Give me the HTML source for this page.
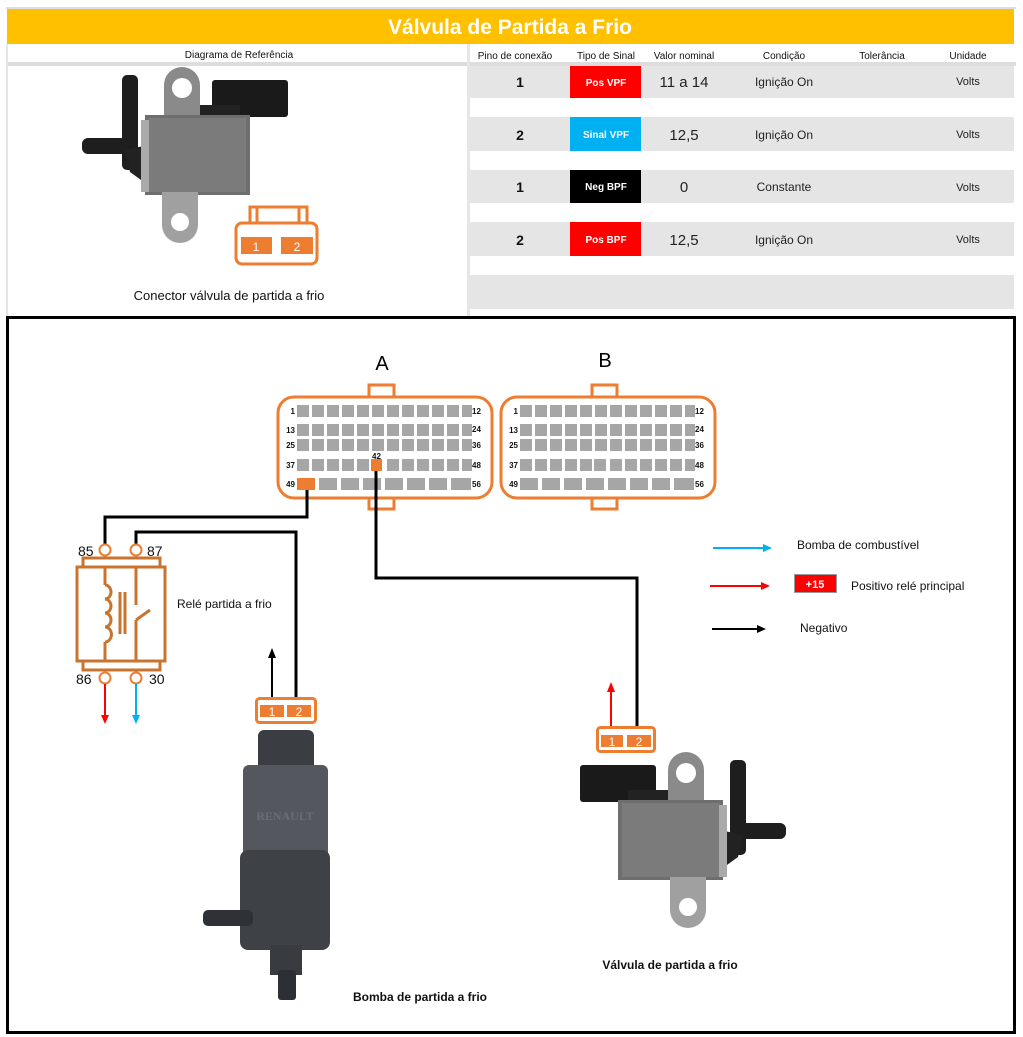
<!DOCTYPE html>
<html><head><meta charset="utf-8">
<style>
body{margin:0;background:#fff;width:1023px;height:1037px;overflow:hidden;font-family:"Liberation Sans",sans-serif;}
svg{position:absolute;left:0;top:0}
</style></head><body>
<svg width="1023" height="1037" viewBox="0 0 1023 1037" xmlns="http://www.w3.org/2000/svg" font-family="Liberation Sans, sans-serif">
<defs>
<g id="valve">
  <rect x="82" y="138" width="45" height="16" rx="6" fill="#1e1e1e"/>
  <rect x="122" y="75" width="16" height="95" rx="5" fill="#1e1e1e"/>
  <polygon points="125,150 148,145 148,185 130,172" fill="#222"/>
  <path d="M164,118 L164,85 A18,18 0 0 1 200,85 L200,118 Z" fill="#8a8a8a"/>
  <circle cx="182" cy="88" r="10" fill="#fff"/>
  <rect x="212" y="80" width="76" height="37" rx="3" fill="#1a1a1a"/>
  <rect x="200" y="105" width="40" height="15" fill="#222"/>
  <rect x="145" y="115" width="105" height="80" fill="#6e6e6e"/>
  <rect x="148" y="118" width="98" height="74" fill="#7b7b7b"/>
  <rect x="141" y="120" width="8" height="72" fill="#aaa"/>
  <path d="M162,192 L162,225 A18,18 0 0 0 198,225 L198,192 Z" fill="#a0a0a0"/>
  <circle cx="180" cy="222" r="9" fill="#fff"/>
</g>
</defs>
<!-- header -->
<rect x="6" y="7" width="1010" height="2" fill="#ddd"/>
<rect x="7" y="9" width="1007" height="35" fill="#ffc000"/>
<text x="510" y="34" text-anchor="middle" fill="#fff" font-size="21" font-weight="bold">Válvula de Partida a Frio</text>
<g font-size="10" fill="#111" text-anchor="middle">
<text x="239" y="58">Diagrama de Referência</text>
<text x="515" y="59">Pino de conexão</text>
<text x="606" y="59">Tipo de Sinal</text>
<text x="684" y="59">Valor nominal</text>
<text x="784" y="59">Condição</text>
<text x="882" y="59">Tolerância</text>
<text x="968" y="59">Unidade</text>
</g>
<rect x="6" y="62" width="1010" height="4" fill="#ddd"/>
<rect x="467" y="44" width="3" height="272" fill="#e6e6e6"/>
<rect x="6" y="44" width="2" height="272" fill="#e6e6e6"/>
<rect x="470" y="66" width="544" height="32" fill="#e5e5e5"/>
<rect x="470" y="117" width="544" height="34" fill="#e5e5e5"/>
<rect x="470" y="170" width="544" height="33" fill="#e5e5e5"/>
<rect x="470" y="222" width="544" height="34" fill="#e5e5e5"/>
<rect x="470" y="275" width="544" height="34" fill="#e5e5e5"/>
<rect x="570" y="66" width="71" height="32" fill="#ff0000"/>
<rect x="570" y="117" width="71" height="34" fill="#00b0f0"/>
<rect x="570" y="170" width="71" height="33" fill="#000"/>
<rect x="570" y="222" width="71" height="34" fill="#ff0000"/>
<g text-anchor="middle">
<g font-size="14" font-weight="bold" fill="#111"><text x="520" y="87">1</text><text x="520" y="140">2</text><text x="520" y="192">1</text><text x="520" y="245">2</text></g>
<g font-size="10" font-weight="bold" fill="#fff"><text x="606" y="86">Pos VPF</text><text x="606" y="138">Sinal VPF</text><text x="606" y="190">Neg BPF</text><text x="606" y="243">Pos BPF</text></g>
<g font-size="15" fill="#222"><text x="684" y="87">11 a 14</text><text x="684" y="140">12,5</text><text x="684" y="192">0</text><text x="684" y="245">12,5</text></g>
<g font-size="12" fill="#222"><text x="784" y="86">Ignição On</text><text x="784" y="139">Ignição On</text><text x="784" y="191">Constante</text><text x="784" y="244">Ignição On</text></g>
<g font-size="11" fill="#222"><text x="968" y="85">Volts</text><text x="968" y="138">Volts</text><text x="968" y="191">Volts</text><text x="968" y="243">Volts</text></g>
</g>
<use href="#valve"/>
<!-- top connector icon -->
<g fill="none" stroke="#ed7d31" stroke-width="3">
<rect x="236" y="223" width="81" height="41" rx="6"/>
<path d="M250,222 V207 H307 V222 M257,207 V222 M299,207 V222"/>
</g>
<rect x="241" y="237" width="31" height="17" fill="#ed7d31"/>
<rect x="281" y="237" width="32" height="17" fill="#ed7d31"/>
<text x="256" y="251" fill="#fff" font-size="12" text-anchor="middle">1</text>
<text x="297" y="251" fill="#fff" font-size="12" text-anchor="middle">2</text>
<text x="229" y="300" font-size="13" text-anchor="middle" fill="#111">Conector válvula de partida a frio</text>
<!-- main frame -->
<rect x="7.5" y="317.5" width="1007" height="715" fill="none" stroke="#000" stroke-width="3"/>
<!-- ECU connectors -->
<text x="382" y="370" font-size="20" text-anchor="middle">A</text>
<text x="605" y="367" font-size="20" text-anchor="middle">B</text>
<g fill="#fff" stroke="#ed7d31" stroke-width="3">
<rect x="369" y="385" width="25" height="14"/><rect x="369" y="495" width="25" height="14"/>
<rect x="592" y="385" width="25" height="14"/><rect x="592" y="495" width="25" height="14"/>
<rect x="278" y="397" width="214" height="101" rx="16"/>
<rect x="501" y="397" width="214" height="101" rx="16"/>
</g>
<g id="pinsA" fill="#a6a6a6">
<rect x="297" y="405" width="12" height="12"/><rect x="312" y="405" width="12" height="12"/><rect x="327" y="405" width="12" height="12"/><rect x="342" y="405" width="12" height="12"/><rect x="357" y="405" width="12" height="12"/><rect x="372" y="405" width="12" height="12"/><rect x="387" y="405" width="12" height="12"/><rect x="402" y="405" width="12" height="12"/><rect x="417" y="405" width="12" height="12"/><rect x="432" y="405" width="12" height="12"/><rect x="447" y="405" width="12" height="12"/><rect x="462" y="405" width="10" height="12"/>
<rect x="297" y="424" width="12" height="12"/><rect x="312" y="424" width="12" height="12"/><rect x="327" y="424" width="12" height="12"/><rect x="342" y="424" width="12" height="12"/><rect x="357" y="424" width="12" height="12"/><rect x="372" y="424" width="12" height="12"/><rect x="387" y="424" width="12" height="12"/><rect x="402" y="424" width="12" height="12"/><rect x="417" y="424" width="12" height="12"/><rect x="432" y="424" width="12" height="12"/><rect x="447" y="424" width="12" height="12"/><rect x="462" y="424" width="10" height="12"/>
<rect x="297" y="439" width="12" height="12"/><rect x="312" y="439" width="12" height="12"/><rect x="327" y="439" width="12" height="12"/><rect x="342" y="439" width="12" height="12"/><rect x="357" y="439" width="12" height="12"/><rect x="372" y="439" width="12" height="12"/><rect x="387" y="439" width="12" height="12"/><rect x="402" y="439" width="12" height="12"/><rect x="417" y="439" width="12" height="12"/><rect x="432" y="439" width="12" height="12"/><rect x="447" y="439" width="12" height="12"/><rect x="462" y="439" width="10" height="12"/>
<rect x="297" y="459" width="12" height="12"/><rect x="312" y="459" width="12" height="12"/><rect x="327" y="459" width="12" height="12"/><rect x="342" y="459" width="12" height="12"/><rect x="357" y="459" width="12" height="12"/><rect x="387" y="459" width="12" height="12"/><rect x="402" y="459" width="12" height="12"/><rect x="417" y="459" width="12" height="12"/><rect x="432" y="459" width="12" height="12"/><rect x="447" y="459" width="12" height="12"/><rect x="462" y="459" width="10" height="12"/>
<rect x="319" y="478" width="18" height="12"/><rect x="341" y="478" width="18" height="12"/><rect x="363" y="478" width="18" height="12"/><rect x="385" y="478" width="18" height="12"/><rect x="407" y="478" width="18" height="12"/><rect x="429" y="478" width="18" height="12"/><rect x="451" y="478" width="20" height="12"/>
</g>
<rect x="371" y="459" width="11" height="12" fill="#ed7d31"/>
<rect x="297" y="478" width="18" height="12" fill="#ed7d31"/>
<use href="#pinsA" transform="translate(223,0)"/>
<rect x="594" y="459" width="12" height="12" fill="#a6a6a6"/>
<rect x="520" y="478" width="18" height="12" fill="#a6a6a6"/>
<g font-size="8" font-weight="bold" fill="#111">
<g text-anchor="end"><text x="295" y="414">1</text><text x="295" y="433">13</text><text x="295" y="448">25</text><text x="295" y="468">37</text><text x="295" y="487">49</text>
<text x="518" y="414">1</text><text x="518" y="433">13</text><text x="518" y="448">25</text><text x="518" y="468">37</text><text x="518" y="487">49</text></g>
<text x="472" y="414">12</text><text x="472" y="432">24</text><text x="472" y="448">36</text><text x="472" y="468">48</text><text x="472" y="487">56</text>
<text x="695" y="414">12</text><text x="695" y="432">24</text><text x="695" y="448">36</text><text x="695" y="468">48</text><text x="695" y="487">56</text>
<text x="372" y="459">42</text>
</g>
<!-- wires -->
<g fill="none" stroke="#000" stroke-width="3">
<path d="M307,490 V517 H105 V545"/>
<path d="M136,545 V532 H296 V698"/>
<path d="M376,471 V578 H637 V728"/>
</g>
<!-- relay -->
<g fill="none" stroke="#c8742f" stroke-width="3">
<rect x="83" y="558" width="77" height="9"/>
<rect x="77" y="567" width="88" height="94"/>
<rect x="83" y="661" width="77" height="9"/>
<path d="M105,567 V585 M105,642 V661 M136,567 V605 M136,620 V661 M136,620 L150,610"/>
<path d="M105,585 a6,7 0 0 1 0,14 a6,7 0 0 1 0,14 a6,7 0 0 1 0,14 a6,7 0 0 1 0,15" />
<path d="M120,592 V634 M125,592 V634"/>
</g>
<g fill="#fff" stroke="#ed7d31" stroke-width="2"><circle cx="105" cy="550" r="5.5"/><circle cx="136" cy="550" r="5.5"/><circle cx="105" cy="678" r="5.5"/><circle cx="136" cy="678" r="5.5"/></g>
<g font-size="14" fill="#111"><text x="78" y="556">85</text><text x="147" y="556">87</text><text x="76" y="684">86</text><text x="149" y="684">30</text></g>
<text x="177" y="608" font-size="12" fill="#111">Relé partida a frio</text>
<path d="M105,684 V716" stroke="#f00" stroke-width="2"/><polygon points="101,715 109,715 105,724" fill="#f00"/>
<path d="M136,684 V716" stroke="#00b0f0" stroke-width="2"/><polygon points="132,715 140,715 136,724" fill="#00b0f0"/>
<!-- pump connector -->
<path d="M272,698 V656" stroke="#000" stroke-width="2"/><polygon points="268,658 276,658 272,648"/>
<rect x="256.5" y="698.5" width="59" height="24" rx="3" fill="#fff" stroke="#ed7d31" stroke-width="3"/>
<rect x="260" y="705" width="24" height="12" fill="#ed7d31"/><rect x="287" y="705" width="24" height="12" fill="#ed7d31"/>
<text x="272" y="716" fill="#fff" font-size="12" text-anchor="middle">1</text><text x="299" y="716" fill="#fff" font-size="12" text-anchor="middle">2</text>
<!-- pump -->
<g>
<rect x="258" y="730" width="56" height="50" rx="6" fill="#3a3d42"/>
<rect x="243" y="765" width="85" height="140" rx="6" fill="#54585e"/>
<rect x="240" y="850" width="90" height="100" rx="8" fill="#3e4247"/>
<rect x="270" y="945" width="32" height="30" fill="#383b40"/>
<rect x="278" y="970" width="18" height="30" rx="3" fill="#2c2f33"/>
<rect x="203" y="910" width="50" height="16" rx="5" fill="#2e3135"/>
<text x="285" y="820" fill="#6a6d72" font-size="12" font-weight="bold" text-anchor="middle" font-family="Liberation Serif, serif">RENAULT</text>
</g>
<text x="420" y="1001" font-size="12" font-weight="bold" text-anchor="middle" fill="#111">Bomba de partida a frio</text>
<!-- valve connector -->
<path d="M611,727 V690" stroke="#f00" stroke-width="2"/><polygon points="607,692 615,692 611,682" fill="#f00"/>
<rect x="597.5" y="727.5" width="57" height="24" rx="3" fill="#fff" stroke="#ed7d31" stroke-width="3"/>
<rect x="601" y="735" width="22" height="12" fill="#ed7d31"/><rect x="627" y="735" width="24" height="12" fill="#ed7d31"/>
<text x="612" y="746" fill="#fff" font-size="12" text-anchor="middle">1</text><text x="639" y="746" fill="#fff" font-size="12" text-anchor="middle">2</text>
<use href="#valve" transform="translate(868,685) scale(-1,1)"/>
<text x="670" y="969" font-size="12" font-weight="bold" text-anchor="middle" fill="#111">Válvula de partida a frio</text>
<!-- legend -->
<path d="M713,548 H764" stroke="#00b0f0" stroke-width="2"/><polygon points="763,544 772,548 763,552" fill="#00b0f0"/>
<text x="797" y="549" font-size="12" fill="#111">Bomba de combustível</text>
<path d="M710,586 H762" stroke="#f00" stroke-width="2"/><polygon points="761,582 770,586 761,590" fill="#f00"/>
<rect x="794.5" y="574.5" width="42" height="18" fill="#f00" stroke="#999"/>
<text x="815" y="588" font-size="11" font-weight="bold" fill="#fff" text-anchor="middle">+15</text>
<text x="851" y="590" font-size="12" fill="#111">Positivo relé principal</text>
<path d="M712,629 H758" stroke="#000" stroke-width="2"/><polygon points="757,625 766,629 757,633"/>
<text x="800" y="632" font-size="12" fill="#111">Negativo</text>
</svg>
</body></html>
